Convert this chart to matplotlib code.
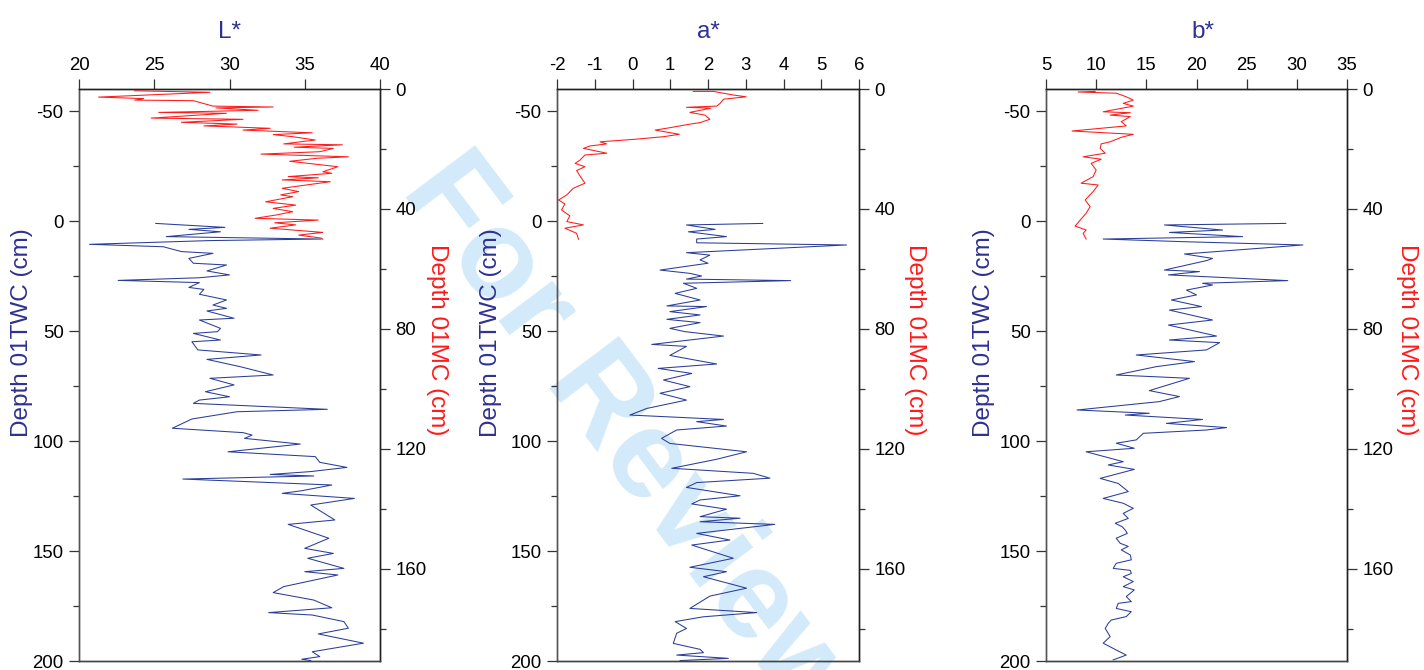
import matplotlib
matplotlib.use('Agg')
import matplotlib.pyplot as plt
from matplotlib.ticker import MultipleLocator

plt.rcParams['font.family'] = ['Liberation Sans', 'DejaVu Sans']
plt.rcParams['axes.unicode_minus'] = False

# Colour measurements on core 01TWC (depth in cm)
twc_depth_L = [1.1, 2.9, 3.8, 4.9, 7.1, 8.2, 8.9, 10.6, 11.7, 13.9, 14.7, 17.0, 19.2, 20.0,
               22.7, 24.5, 25.8, 27.0, 28.0, 30.2, 31.1, 33.3, 35.9, 38.2, 39.7, 40.9, 44.2,
               45.0, 48.8, 50.3, 51.1, 54.1, 54.9, 58.6, 60.9, 62.9, 66.2, 70.0, 71.5, 74.5,
               77.6, 79.9, 81.4, 82.9, 85.6, 86.7, 90.0, 94.2, 96.2, 97.3, 98.8, 101.4, 104.9,
               107.1, 109.7, 112.0, 113.9, 115.2, 115.9, 117.3, 120.0, 122.6, 123.8, 126.1,
               129.1, 132.1, 135.9, 137.9, 144.2, 148.8, 151.1, 153.3, 157.9, 159.4, 160.9,
               166.2, 168.9, 172.3, 175.8, 178.0, 179.1, 182.1, 185.1, 187.7, 191.9, 193.5,
               195.8, 198.0, 199.2, 199.8]
twc_L = [25.1, 29.7, 27.3, 29.4, 25.8, 36.1, 28.7, 20.7, 25.6, 26.8, 28.9, 27.3, 27.6, 29.8,
         28.5, 30.0, 28.0, 22.6, 28.0, 27.3, 28.3, 28.0, 29.8, 28.9, 29.8, 28.5, 30.3,
         28.0, 29.4, 29.2, 27.6, 29.4, 27.5, 27.9, 32.1, 28.5, 30.7, 32.9, 28.7, 30.3,
         28.4, 30.0, 28.0, 27.6, 36.5, 30.5, 27.5, 26.2, 30.9, 31.5, 31.0, 34.7, 29.9,
         35.7, 36.0, 37.8, 35.4, 32.7, 35.6, 26.9, 36.8, 34.8, 33.5, 38.3,
         35.4, 36.1, 37.0, 33.9, 36.6, 35.0, 36.9, 35.2, 37.6, 35.0, 37.2,
         33.6, 32.9, 35.6, 36.8, 32.6, 35.5, 37.6, 37.9, 35.9, 38.9, 37.5,
         35.5, 36.0, 34.8, 35.4]

twc_depth_a = [1.1, 1.8, 3.8, 4.9, 7.1, 8.2, 9.9, 10.9, 14.4, 15.5, 17.7, 19.2, 22.3, 23.8,
               25.0, 26.4, 27.1, 28.3, 30.6, 32.9, 35.9, 38.6, 38.9, 41.2, 42.7, 44.7, 46.2,
               48.8, 50.3, 52.3, 56.1, 57.0, 61.1, 65.0, 67.0, 69.3, 72.3, 75.3, 78.3, 81.4,
               83.6, 85.2, 88.2, 90.2, 91.2, 93.2, 95.0, 98.8, 101.1, 104.9, 108.3, 112.4,
               114.7, 116.9, 118.9, 121.1, 124.9, 126.8, 128.6, 131.0, 134.4, 135.1, 136.7,
               137.9, 142.0, 145.0, 147.3, 153.3, 157.4, 159.4, 161.7, 166.9, 170.5, 176.1,
               178.0, 179.9, 182.1, 185.2, 187.4, 192.0, 194.7, 196.2, 197.3, 198.8, 199.8]
twc_a = [3.45, 1.43, 2.19, 1.48, 2.49, 1.70, 1.70, 5.67, 1.43, 2.05, 1.79, 2.00, 0.73, 1.52,
         1.83, 1.43, 4.19, 1.35, 1.70, 1.13, 1.79, 0.91, 1.96, 0.99, 1.79, 0.91, 1.79,
         0.99, 1.39, 2.41, 0.51, 1.43, 0.99, 2.23, 0.68, 1.57, 0.82, 1.52, 0.73, 1.43,
         0.82, 0.38, -0.07, 2.41, 1.70, 2.49, 1.17, 0.77, 0.99, 3.02, 2.23, 1.04,
         3.20, 3.64, 1.70, 1.43, 2.85, 1.79, 1.57, 2.49, 1.79, 2.85, 1.79,
         3.77, 1.70, 2.58, 1.57, 2.67, 1.52, 2.49, 1.88, 3.02, 2.05, 1.52,
         3.29, 1.88, 1.13, 1.43, 1.17, 1.08, 1.79, 1.88, 1.17, 2.54, 1.26]

twc_depth_b = [1.1, 1.8, 4.1, 5.2, 7.1, 8.2, 9.4, 10.9, 15.0, 17.0, 18.0, 22.3, 23.0, 24.5,
               27.1, 28.3, 29.1, 31.4, 33.6, 35.9, 38.9, 40.5, 45.0, 47.3, 52.3, 54.1, 55.3,
               58.6, 60.9, 63.9, 66.2, 70.0, 71.5, 77.1, 79.8, 82.1, 85.9, 87.4, 88.2, 90.2,
               92.0, 93.9, 95.0, 96.5, 99.5, 101.0, 103.3, 104.9, 109.4, 110.9, 112.9, 117.0,
               119.3, 123.0, 126.1, 128.3, 130.6, 132.9, 135.2, 137.4, 139.0, 140.5, 142.0,
               144.2, 146.5, 147.9, 149.5, 151.8, 154.0, 155.6, 157.9, 158.8, 160.2, 161.7,
               163.9, 166.2, 167.7, 170.7, 173.0, 173.8, 176.1, 177.6, 179.8, 181.4, 182.9,
               185.2, 188.9, 191.9, 195.0, 197.3, 199.5]
twc_b = [28.9, 16.8, 22.6, 17.3, 24.6, 10.7, 18.7, 30.6, 18.8, 21.6, 21.0, 16.8, 20.3, 17.2,
         29.1, 20.6, 21.6, 19.0, 20.0, 17.5, 20.5, 17.3, 21.6, 17.2, 22.0, 17.3, 22.3,
         21.0, 14.0, 19.8, 16.0, 12.0, 19.3, 15.3, 18.3, 16.3, 8.1, 15.3, 12.9, 20.6,
         17.0, 23.0, 21.0, 14.7, 14.0, 12.0, 13.8, 9.0, 12.7, 11.2, 13.8, 10.4,
         12.2, 13.2, 10.7, 12.7, 13.7, 12.7, 13.2, 11.9, 12.6, 12.9, 13.1,
         12.0, 12.4, 13.2, 12.5, 13.4, 13.5, 12.0, 11.7, 13.4, 13.5, 12.7,
         13.7, 12.7, 13.8, 13.0, 13.5, 12.2, 12.0, 13.5, 13.0, 11.5, 11.2,
         10.9, 11.4, 10.7, 12.0, 13.0, 11.7]

# Colour measurements on core 01MC (depth in cm)
mc_depth_L = [0.6, 1.1, 2.7, 3.2, 3.7, 3.9, 5.7, 6.0, 6.3, 7.1, 7.8, 8.1, 9.7, 10.1, 11.1,
              11.7, 12.3, 13.1, 13.7, 14.6, 15.2, 15.9, 17.0, 18.3, 18.6, 19.4, 19.8, 20.9,
              21.7, 22.6, 23.1, 24.1, 25.9, 27.6, 28.1, 29.2, 29.6, 30.3, 30.9, 33.1, 34.2,
              35.3, 35.9, 37.6, 38.7, 39.8, 40.9, 42.0, 43.1, 43.7, 44.6, 45.3, 46.4, 47.8,
              48.7, 49.7, 50.1]
mc_L = [23.7, 28.7, 21.3, 24.3, 23.7, 27.6, 28.9, 32.9, 29.1, 31.9, 25.3, 29.8, 24.8, 30.9,
        26.8, 30.5, 28.3, 32.7, 30.9, 35.5, 32.9, 34.2, 35.7, 33.6, 37.5, 34.3, 36.9, 36.0,
        32.1, 37.9, 35.8, 34.0, 37.2, 36.2, 36.8, 33.9, 35.9, 33.5, 36.7, 33.5, 34.6,
        33.4, 34.2, 32.4, 34.4, 32.9, 34.2, 33.1, 31.7, 35.9, 33.0, 34.4, 32.7, 36.2,
        34.6, 36.1, 36.2]

mc_depth_a = [0.8, 0.8, 2.0, 2.6, 3.4, 4.8, 5.7, 6.1, 6.4, 7.8, 8.7, 10.1, 11.2, 11.8, 12.9,
              13.7, 15.1, 15.9, 16.8, 17.6, 18.3, 19.0, 19.8, 21.4, 22.0, 23.7, 24.8, 25.9,
              27.2, 29.0, 31.4, 33.1, 35.3, 37.0, 38.3, 40.3, 42.3, 44.2, 45.3, 46.4, 48.1,
              50.1]
mc_a = [1.61, 2.14, 2.67, 3.01, 2.41, 2.32, 2.23, 1.43, 2.07, 1.52, 1.92, 2.05, 1.79, 1.48,
        0.99, 0.60, 1.24, 0.82, 0.02, -0.86, -0.68, -1.13, -1.30, -0.68, -1.26, -1.39,
        -1.52, -1.26, -1.48, -1.39, -1.26, -1.57, -1.74, -1.96, -1.79, -1.88, -1.66,
        -1.74, -1.30, -1.79, -1.48, -1.43]

mc_depth_b = [0.8, 1.0, 1.4, 2.6, 3.7, 4.8, 5.7, 7.6, 7.9, 8.7, 9.2, 10.9, 12.3, 14.0, 15.1,
              16.1, 17.6, 18.3, 19.8, 21.4, 22.6, 23.4, 24.8, 27.0, 29.2, 31.4, 32.0, 34.2,
              37.0, 39.2, 41.4, 45.7, 47.0, 48.1, 50.0]
mc_b = [9.9, 8.2, 12.0, 13.0, 13.7, 12.7, 13.7, 10.7, 13.4, 11.4, 13.4, 12.5, 13.0, 7.6,
        13.7, 12.5, 11.4, 10.5, 10.4, 10.9, 8.7, 10.5, 9.5, 10.0, 9.7, 8.5, 10.2, 9.7,
        8.9, 9.4, 9.0, 7.9, 9.0, 8.7, 9.0]

TWC_COLOR = '#2a3d97'
MC_COLOR = '#ff1a1a'
LABEL_BLUE = '#2e3192'
MC_BOTTOM = 190.67


def style_axis(ax):
    ax.patch.set_alpha(0)
    ax.spines['left'].set_color('#555555')
    ax.spines['bottom'].set_color('#444444')
    ax.spines['top'].set_color('#222222')
    ax.spines['right'].set_color('#222222')
    for sp in ax.spines.values():
        sp.set_linewidth(1.0)
    ax.tick_params(which='major', direction='out', length=7, width=0.9,
                   labelsize=13.4, pad=4, color='#333333')
    ax.tick_params(which='minor', direction='out', length=4, width=0.9,
                   color='#333333')


def plot_panel(fig, rect, twc_depth, twc_vals, mc_depth, mc_vals, xlim, xstep,
               title, title_x, left_off, right_off):
    ax = fig.add_axes(rect)
    ax.plot(twc_vals, twc_depth, color=TWC_COLOR, lw=0.75)
    ax.set_xlim(*xlim)
    ax.set_ylim(200, -60)
    ax.xaxis.tick_top()
    ax.xaxis.set_major_locator(MultipleLocator(xstep))
    ax.yaxis.set_major_locator(MultipleLocator(50))
    ax.yaxis.set_minor_locator(MultipleLocator(25))
    style_axis(ax)

    ax2 = ax.twinx()
    ax2.plot(mc_vals, mc_depth, color=MC_COLOR, lw=0.75)
    ax2.set_ylim(MC_BOTTOM, 0)
    ax2.yaxis.set_major_locator(MultipleLocator(40))
    ax2.yaxis.set_minor_locator(MultipleLocator(20))
    style_axis(ax2)

    ax.text(title_x, 1 + 51 / 572, title, transform=ax.transAxes, ha='center',
            va='baseline', fontsize=17.5, color=LABEL_BLUE)
    ax.text(left_off, 0.5734, 'Depth 01TWC (cm)', transform=ax.transAxes,
            rotation=90, ha='center', va='center', fontsize=17.5, color=LABEL_BLUE)
    ax.text(right_off, 0.561, 'Depth 01MC (cm)', transform=ax.transAxes,
            rotation=270, ha='center', va='center', fontsize=17.5, color=MC_COLOR)
    return ax, ax2


if __name__ == "__main__":
    fig = plt.figure(figsize=(14.24, 6.7), dpi=100)

    # watermark sits behind everything else
    fig.text(400 / 1424, 1 - 190 / 670, 'For Review', rotation=-53,
             rotation_mode='anchor', ha='left', va='baseline', fontsize=91,
             fontweight='bold', color='#d2eaf9', zorder=-1)

    bottom = 1 - 661 / 670
    height = 572 / 670
    plot_panel(fig, [79 / 1424, bottom, 301 / 1424, height],
               twc_depth_L, twc_L, mc_depth_L, mc_L, (20, 40), 5, 'L*', 0.5,
               -0.189, 1.189)
    plot_panel(fig, [557 / 1424, bottom, 302 / 1424, height],
               twc_depth_a, twc_a, mc_depth_a, mc_a, (-2, 6), 1, 'a*', 0.5,
               -0.218, 1.185)
    plot_panel(fig, [1046 / 1424, bottom, 301 / 1424, height],
               twc_depth_b, twc_b, mc_depth_b, mc_b, (5, 35), 5, 'b*', 0.52,
               -0.206, 1.20)

    fig.savefig('out.png', dpi=100)
